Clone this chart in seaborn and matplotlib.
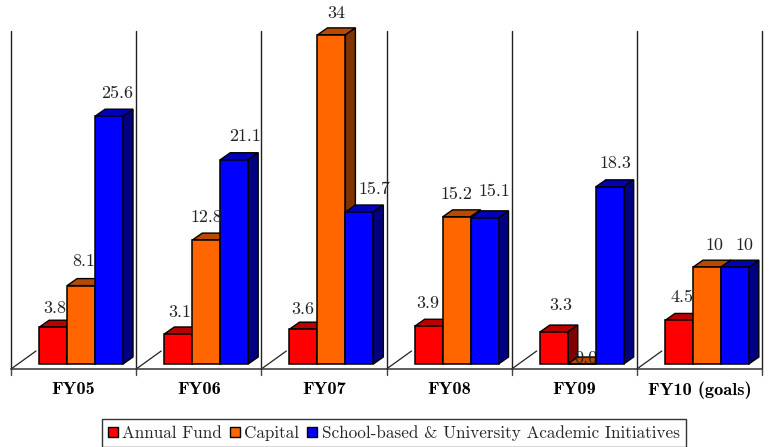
import matplotlib
matplotlib.use("Agg")
import matplotlib.pyplot as plt
from matplotlib.patches import Polygon
import matplotlib.colors as mc
import seaborn as sns
import pandas as pd

years = ["FY05", "FY06", "FY07", "FY08", "FY09", "FY10 (goals)"]
annual = [3.8, 3.1, 3.6, 3.9, 3.3, 4.5]
capital = [8.1, 12.8, 34, 15.2, 0.0, 10]
school = [25.6, 21.1, 15.7, 15.1, 18.3, 10]
annual_lbl = ["3.8", "3.1", "3.6", "3.9", "3.3", "4.5"]
capital_lbl = ["8.1", "12.8", "34", "15.2", "0.0", "10"]
school_lbl = ["25.6", "21.1", "15.7", "15.1", "18.3", "10"]
names = ["Annual Fund", "Capital", "School-based & University Academic Initiatives"]
colors = ["#ff0000", "#ff6600", "#0000ff"]

# label placement nudges (pixels from the top centre of each bar's front face)
nudge_x = [[2, 1, -1, -1, 7, 3], [3, 0, 5, 0, 4, 8], [8, 11, 15, 10, 6, 10]]
nudge_y = [[19, 22, 20, 23, 27, 23], [24, 23, 22, 23, 6, 22], [23, 23, 23, 26, 24, 22]]

sns.set_style("white")
plt.rcParams["font.family"] = "cmr10"
plt.rcParams["axes.formatter.use_mathtext"] = True

df = pd.DataFrame({"year": years * 3,
                   "series": sum([[n] * len(years) for n in names], []),
                   "value": annual + capital + school})

W, H = 772, 447
fig = plt.figure(figsize=(W / 100, H / 100), dpi=100)
L, R, T, B = 11, 762, 31, 369
ax = fig.add_axes([L / W, 1 - B / H, (R - L) / W, (B - T) / H])
sns.barplot(data=df, x="year", y="value", hue="series", hue_order=names, order=years,
            palette=colors, width=0.67, gap=0, saturation=1, edgecolor="black",
            linewidth=1.1, ax=ax, errorbar=None, zorder=3)

shift = 0.06
pxu = 9.68
ax.set_xlim(-0.5 - shift, 5.5 - shift)
ax.set_ylim(-5 / pxu, (364 - T) / pxu)
ax.set_xlabel("")
ax.set_ylabel("")
ax.set_yticks([])
ax.set_xticks([i - shift for i in range(len(years))])
ax.set_xticklabels(years, fontfamily="cmb10", fontsize=13.2, color="black")
ax.tick_params(axis="x", length=0, pad=9)
for s in ["top", "right", "left"]:
    ax.spines[s].set_visible(False)
ax.spines["bottom"].set_color("#333333")
ax.spines["bottom"].set_linewidth(1.1)

base = ax.get_xaxis_transform()
for k in range(len(years) + 1):
    x = k - 0.5 - shift
    ax.plot([x, x], [0, 1], transform=base, color="#222222", lw=1, zorder=1, clip_on=False)
    ax.plot([x, x], [-6 / (B - T), 0], transform=base, color="#444444", lw=1, clip_on=False)
    if k < len(years):
        ax.plot([x, x + 0.2], [0, 18 / (B - T)], transform=base, color="#222222", lw=0.9, zorder=1)

dx_data = 10 / ((R - L) / len(years))
dy_data = 7 / pxu


def darker(c, f):
    r, g, b = mc.to_rgb(c)
    return (r * f, g * f, b * f)


all_labels = [annual_lbl, capital_lbl, school_lbl]
for s_idx in range(3):
    col = colors[s_idx]
    for i, bar in enumerate(ax.containers[s_idx]):
        x0, w, h = bar.get_x(), bar.get_width(), bar.get_height()
        x1 = x0 + w
        z = 2.5 + s_idx * 0.1
        ax.add_patch(Polygon([(x0, h), (x1, h), (x1 + dx_data, h + dy_data), (x0 + dx_data, h + dy_data)],
                             closed=True, fc=darker(col, 0.72), ec="black", lw=1.0, zorder=z, clip_on=False))
        ax.add_patch(Polygon([(x1, 0), (x1, h), (x1 + dx_data, h + dy_data), (x1 + dx_data, dy_data)],
                             closed=True, fc=darker(col, 0.5), ec="black", lw=1.0, zorder=z, clip_on=False))
        bar.set_zorder(3 + s_idx * 0.1)
        ax.annotate(all_labels[s_idx][i], xy=(x0 + w / 2, h),
                    xytext=(nudge_x[s_idx][i] * 0.72, nudge_y[s_idx][i] * 0.72), textcoords="offset points",
                    ha="center", va="center", fontsize=13, color="#222222",
                    zorder=2.9 if (s_idx == 1 and h < 1) else 5, annotation_clip=False)

leg = ax.legend(handles=[plt.Rectangle((0, 0), 1, 1, fc=c, ec="black", lw=1) for c in colors], labels=names,
                loc="lower left", bbox_to_anchor=(102 / W, 0), bbox_transform=fig.transFigure, ncol=3,
                frameon=True, fancybox=False, edgecolor="#333333", framealpha=1, fontsize=12.3,
                handlelength=0.6, handleheight=0.6, handletextpad=0.25, columnspacing=0.45,
                borderaxespad=0, borderpad=0.35)
leg.get_frame().set_linewidth(1)

fig.savefig("out.png", dpi=100)
